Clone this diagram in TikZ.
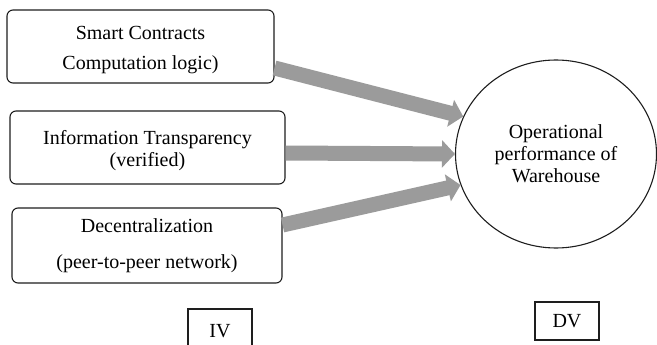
\documentclass[tikz,border=0pt]{standalone}
\usepackage{fontspec}
\setmainfont{Liberation Serif}
\usetikzlibrary{arrows.meta,shapes.geometric}

\definecolor{arrowgray}{RGB}{155,155,155}
\definecolor{edgeline}{RGB}{30,30,30}

\tikzset{
  ivbox/.style={draw=edgeline, line width=1.1pt, rounded corners=6pt,
    align=center, inner sep=0pt, font=\fontsize{20}{22}\selectfont},
  dvcircle/.style={draw=edgeline, line width=1.1pt, ellipse, inner sep=0pt,
    minimum width=201pt, minimum height=188pt, align=center,
    font=\fontsize{20}{22}\selectfont},
  tagbox/.style={draw=edgeline, line width=1.2pt, inner sep=0pt,
    minimum width=64pt, font=\fontsize{20}{22}\selectfont},
  bigarrow/.style={draw=arrowgray, line width=15pt,
    -{Triangle[width=27pt,length=13pt,fill=arrowgray]}},
}

\begin{document}
\begin{tikzpicture}[x=1pt,y=-1pt]
  \clip (0,0) rectangle (657,345);
  \fill[white] (0,0) rectangle (657,345);

  % independent variables
  \node[ivbox, minimum width=267pt, minimum height=73pt, text height=50pt]
    (sc) at (140.5,46.5) {Smart Contracts\\[8pt]Computation logic)};
  \node[ivbox, minimum width=275pt, minimum height=73pt, text height=42pt]
    (it) at (147.5,147.5) {Information Transparency\\(verified)};
  \node[ivbox, minimum width=270pt, minimum height=75pt]
    (dc) at (147,245.5) {Decentralization\\[14pt](peer-to-peer network)};

  % dependent variable
  \node[dvcircle] (op) at (556,154)
    {Operational\\performance of\\Warehouse};

  % influence arrows
  \draw[bigarrow] ([yshift=-21.5pt]sc.east) -- (op.158);
  \draw[bigarrow] ([yshift=-5.5pt]it.east) -- (op.180);
  \draw[bigarrow] ([yshift=20.5pt]dc.east) -- (op.198);

  % labels
  \node[tagbox, minimum height=44pt] (iv) at (220,331) {IV};
  \node[tagbox, minimum height=38pt] (dv) at (567,321) {DV};
\end{tikzpicture}
\end{document}
